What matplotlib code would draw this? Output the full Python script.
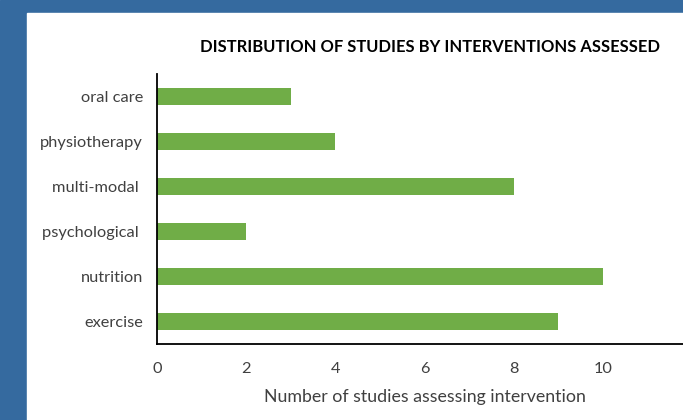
import matplotlib
matplotlib.use('Agg')
import matplotlib.pyplot as plt
from matplotlib.patches import Rectangle

interventions = ['exercise', 'nutrition', 'psychological ', 'multi-modal ', 'physiotherapy', 'oral care']
n_studies = [9, 10, 2, 8, 4, 3]
xticks = [0, 2, 4, 6, 8, 10]

plt.rcParams['font.family'] = ['Lato', 'DejaVu Sans']

W, H = 683, 420
fig = plt.figure(figsize=(W / 100, H / 100), dpi=100)

# slide background: blue strips on top and left
fig.patches.append(Rectangle((0, 0), 1, 1, transform=fig.transFigure, color='#356a9f', zorder=-2))
fig.patches.append(Rectangle((27 / W, 0), 1, 1 - 12.5 / H, transform=fig.transFigure, color='white', zorder=-1))

# axes run a little past the right edge (x axis goes to 12, cut off)
ax = fig.add_axes([157 / W, 76 / H, 535 / W, 270 / H])
ax.set_facecolor('none')
ax.barh(range(len(interventions)), n_studies, height=0.38, color='#70ad47')
ax.set_xlim(0, 12)
ax.set_ylim(-0.5, 5.5)
ax.set_yticks(range(len(interventions)))
ax.set_yticklabels(interventions)
ax.set_xticks(xticks)
ax.tick_params(length=0, labelsize=11.8, colors='#404040')
ax.tick_params(axis='y', pad=10)
ax.tick_params(axis='x', pad=13)
for s in ['top', 'right']:
    ax.spines[s].set_visible(False)
for s in ['left', 'bottom']:
    ax.spines[s].set_linewidth(1.3)
    ax.spines[s].set_color('black')
ax.set_xlabel('Number of studies assessing intervention', fontsize=12.8, color='#404040', labelpad=9)

fig.text(430 / W, 1 - 47 / H, 'DISTRIBUTION OF STUDIES BY INTERVENTIONS ASSESSED',
         ha='center', va='center', fontsize=11.9, fontweight='bold', color='black')

fig.savefig('out.png', dpi=100)
